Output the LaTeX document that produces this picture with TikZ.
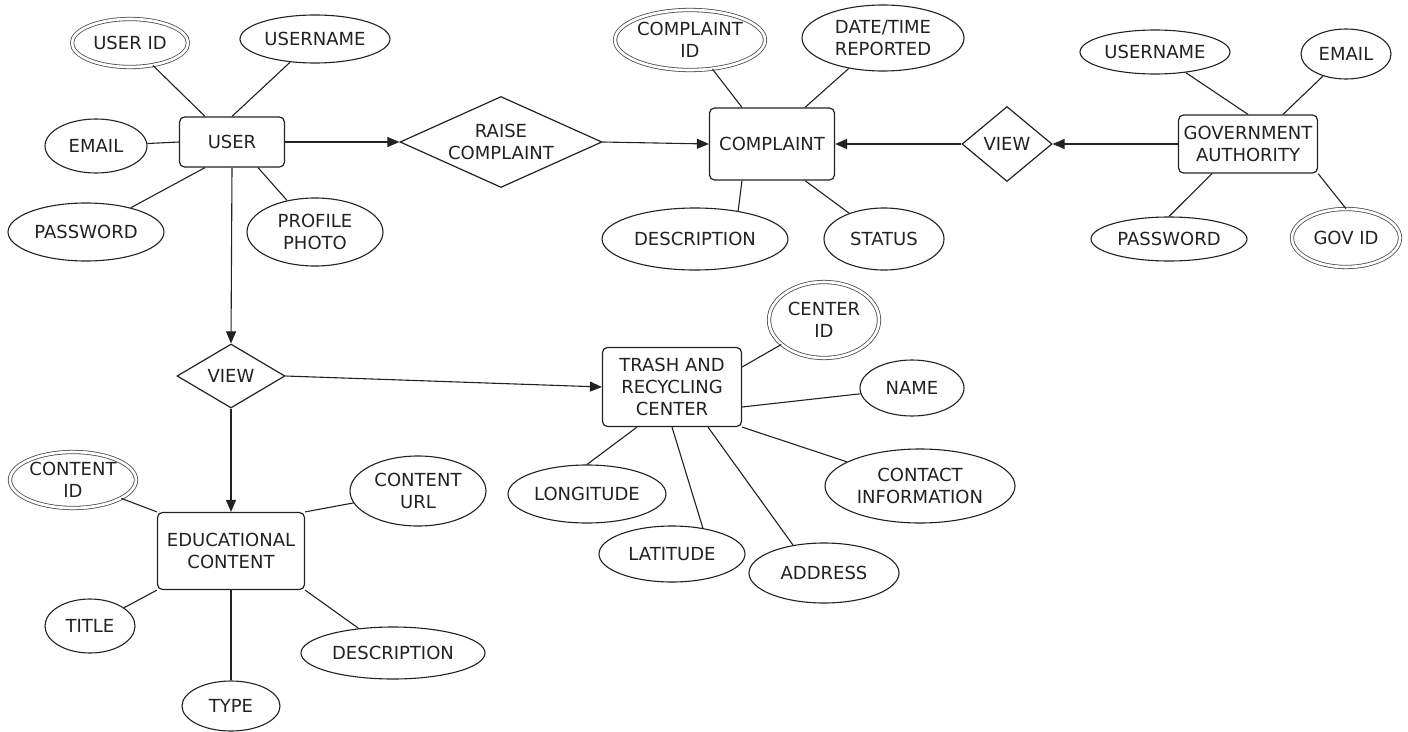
\documentclass[tikz,border=0pt]{standalone}
\usepackage{fontspec}
\setmainfont{DejaVu Sans}
\usetikzlibrary{shapes.geometric,arrows.meta}
\definecolor{ink}{HTML}{222222}
\tikzset{
  ent/.style={draw=ink, rounded corners=5pt, line width=1.2pt, align=center, inner sep=0pt, text=ink},
  attr/.style={draw=ink, ellipse, line width=1.1pt, inner sep=0pt, align=center, text=ink},
  keyattr/.style={attr, draw=black!70, double=white, double distance=2.6pt, line width=0.8pt},
  rel/.style={draw=ink, diamond, line width=1.2pt, inner sep=0pt},
  conn/.style={draw=ink, line width=1.1pt},
  arr/.style={conn, -{Triangle[length=12pt,width=10pt]}}
}
\begin{document}
\begin{tikzpicture}[x=1pt, y=-1pt, font=\fontsize{18}{22}\selectfont]
\useasboundingbox[fill=white] (0,0) rectangle (1408,731);

% entities
\node[ent, minimum width=105pt, minimum height=50pt] (user) at (232,142) {USER};
\node[ent, minimum width=125pt, minimum height=72pt] (complaint) at (772,144) {COMPLAINT};
\node[ent, minimum width=139pt, minimum height=58pt] (gov) at (1248,144) {GOVERNMENT\\AUTHORITY};
\node[ent, minimum width=139pt, minimum height=79pt] (trash) at (672,387) {TRASH AND\\RECYCLING\\CENTER};
\node[ent, minimum width=147pt, minimum height=77pt] (edu) at (231,551) {EDUCATIONAL\\CONTENT};

% relationships
\node[rel, minimum width=202pt, minimum height=91pt, label={[text=ink, align=center]center:RAISE\\COMPLAINT}] (raise) at (501,142) {};
\node[rel, minimum width=90pt, minimum height=75pt, label={[text=ink]center:VIEW}] (viewa) at (1007,144) {};
\node[rel, minimum width=108pt, minimum height=64pt, label={[text=ink]center:VIEW}] (viewb) at (231,376) {};

% user attributes
\node[keyattr, minimum width=116pt, minimum height=48pt] (uid) at (130,43) {USER ID};
\node[attr, minimum width=150pt, minimum height=48pt] (uname) at (315,39) {USERNAME};
\node[attr, minimum width=102pt, minimum height=54pt] (uemail) at (96,146) {EMAIL};
\node[attr, minimum width=156pt, minimum height=58pt] (upass) at (86,232) {PASSWORD};
\node[attr, minimum width=136pt, minimum height=68pt] (uphoto) at (315,232) {PROFILE\\PHOTO};

% complaint attributes
\node[keyattr, minimum width=150pt, minimum height=60pt] (cid) at (690,40) {COMPLAINT\\ID};
\node[attr, minimum width=162pt, minimum height=66pt] (cdate) at (883,38) {DATE/TIME\\REPORTED};
\node[attr, minimum width=186pt, minimum height=62pt] (cdesc) at (695,239) {DESCRIPTION};
\node[attr, minimum width=120pt, minimum height=62pt] (cstatus) at (884,239) {STATUS};

% government attributes
\node[attr, minimum width=150pt, minimum height=44pt] (gname) at (1155,52) {USERNAME};
\node[attr, minimum width=90pt, minimum height=50pt] (gemail) at (1346,54) {EMAIL};
\node[attr, minimum width=156pt, minimum height=44pt] (gpass) at (1169,239) {PASSWORD};
\node[keyattr, minimum width=108pt, minimum height=58pt] (gid) at (1346,238) {GOV ID};

% trash center attributes
\node[keyattr, minimum width=110pt, minimum height=76pt] (tid) at (824,320) {CENTER\\ID};
\node[attr, minimum width=104pt, minimum height=56pt] (tname) at (912,388) {NAME};
\node[attr, minimum width=190pt, minimum height=74pt] (tcontact) at (920,486) {CONTACT\\INFORMATION};
\node[attr, minimum width=158pt, minimum height=58pt] (tlong) at (587,494) {LONGITUDE};
\node[attr, minimum width=146pt, minimum height=56pt] (tlat) at (672,554) {LATITUDE};
\node[attr, minimum width=150pt, minimum height=60pt] (taddr) at (824,573) {ADDRESS};

% educational content attributes
\node[keyattr, minimum width=126pt, minimum height=56pt] (ecid) at (73,480) {CONTENT\\ID};
\node[attr, minimum width=136pt, minimum height=70pt] (eurl) at (418,491) {CONTENT\\URL};
\node[attr, minimum width=90pt, minimum height=54pt] (etitle) at (90,626) {TITLE};
\node[attr, minimum width=184pt, minimum height=52pt] (edesc) at (393,653) {DESCRIPTION};
\node[attr, minimum width=98pt, minimum height=50pt] (etype) at (231,706) {TYPE};

% attribute links
\draw[conn] (uid) -- ([xshift=-27pt]user.north);
\draw[conn] (uname) -- (user.north);
\draw[conn] (uemail) -- (user.west);
\draw[conn] (upass) -- ([xshift=-27pt]user.south);
\draw[conn] (uphoto) -- ([xshift=26pt]user.south);

\draw[conn] (cid) -- ([xshift=-30pt]complaint.north);
\draw[conn] (cdate) -- ([xshift=33pt]complaint.north);
\draw[conn] (cdesc.33) -- ([xshift=-30pt]complaint.south);
\draw[conn] (cstatus) -- ([xshift=33pt]complaint.south);

\draw[conn] (gname) -- (gov.north);
\draw[conn] (gemail) -- ([xshift=35pt]gov.north);
\draw[conn] (gpass.north) -- ([xshift=-36pt]gov.south);
\draw[conn] (gid.north) -- (gov.south east);

\draw[conn] (tid) -- ([yshift=20pt]trash.east);
\draw[conn] (tname) -- ([yshift=-20pt]trash.east);
\draw[conn] (tcontact) -- (trash.south east);
\draw[conn] (taddr.138) -- ([xshift=36pt]trash.south);
\draw[conn] (tlat.40) -- (trash.south);
\draw[conn] (tlong.north) -- ([xshift=-35pt]trash.south);

\draw[conn] (ecid) -- (edu.north west);
\draw[conn] (eurl) -- (edu.north east);
\draw[conn] (etitle) -- (edu.south west);
\draw[conn] (edesc) -- (edu.south east);
\draw[conn] (etype) -- (edu.south);

% relationship arrows
\draw[arr] (user.east) -- (raise.west);
\draw[arr] (raise.east) -- (complaint.west);
\draw[arr] (gov.west) -- (viewa.east);
\draw[arr] (viewa.west) -- (complaint.east);
\draw[arr] (user.south) -- (viewb.north);
\draw[arr] (viewb.south) -- (edu.north);
\draw[arr] (viewb.east) -- (trash.west);
\end{tikzpicture}
\end{document}
